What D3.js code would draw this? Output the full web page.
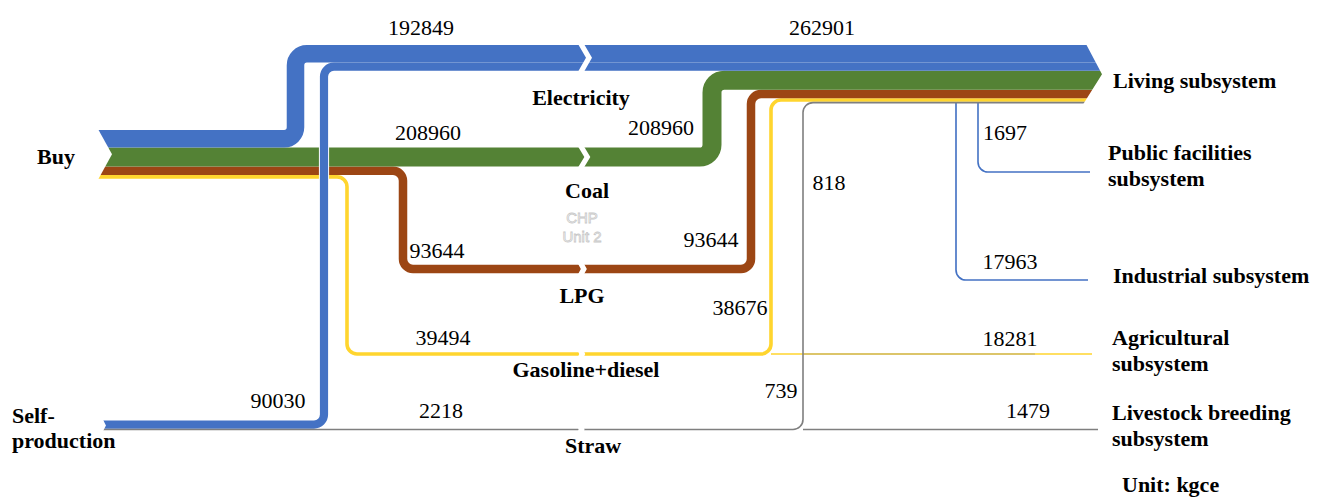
<!DOCTYPE html>
<html>
<head>
<meta charset="utf-8">
<script src="https://cdn.jsdelivr.net/npm/d3@7"></script>
<style>
  html, body { margin: 0; padding: 0; background: #fff; }
  svg { display: block; font-family: "Liberation Serif", "Times New Roman", serif; }
</style>
</head>
<body>
<svg id="chart"></svg>
<script>
// energy flows of the village, unit: kgce
const sources = ["Buy", "Self-production"];
const carriers = ["Electricity", "Coal", "LPG", "Gasoline+diesel", "Straw"];
const sinks = ["Living subsystem", "Public facilities subsystem", "Industrial subsystem",
  "Agricultural subsystem", "Livestock breeding subsystem"];

// inflows: source -> carrier
const inSource = ["Buy", "Self-production", "Buy", "Buy", "Buy", "Self-production"];
const inCarrier = ["Electricity", "Electricity", "Coal", "LPG", "Gasoline+diesel", "Straw"];
const inValue = [192849, 90030, 208960, 93644, 39494, 2218];

// outflows: carrier -> subsystem
const outCarrier = ["Electricity", "Electricity", "Electricity", "Coal", "LPG",
  "Gasoline+diesel", "Gasoline+diesel", "Straw", "Straw", "Straw"];
const outSink = ["Living subsystem", "Public facilities subsystem", "Industrial subsystem",
  "Living subsystem", "Living subsystem", "Living subsystem", "Agricultural subsystem",
  "Living subsystem", "Agricultural subsystem", "Livestock breeding subsystem"];
const outValue = [262901, 1697, 17963, 208960, 93644, 38676, 18281, 818, 739, 1479];

const W = 1317, H = 498;

// hand placed routing of the diagram
const layout = {
  stackTop: { "Buy": 130, "Self-production": 420.5, "Living subsystem": 45 },
  startX: { "Buy": 95, "Self-production": 101 },
  notchX: { "Buy": 98, "Self-production": 103 },
  endX: 1112,
  arrowX: 1086,
  turnIn: [295.5, 324, null, 403, 347, null],
  turnOut: [null, null, 712, 751, 771, 803],
  laneY: { "LPG": 269, "Gasoline+diesel": 354 },
  branchX: [null, 978, 956, null, null, 771, 771, null, 803, 803],
  branchY: { "Public facilities subsystem": 172, "Industrial subsystem": 280, "Agricultural subsystem": 354 },
  branchEnd: [null, 1090, 1088, null, null, null, 1092, null, 1035, 1098],
  breakX: 578,
  inLabel: [[421, 35], [278, 408], [428, 140], [437, 258], [443, 345], [441, 418]],
  outLabel: [[822, 35], [1005, 140], [1010, 269], [661, 135], [711, 247], [740, 315],
    [1010, 346], [829, 190], [781, 398], [1028, 418]],
  carrierLabel: [[581, 105], [587, 198], [582, 303], [586, 377], [593, 453]],
  sinkLabel: [[1113, 88], [1108, 160], [1113, 283], [1112, 345], [1112, 420]],
  sourceLabel: [[37, 164], [12, 423]]
};

const svg = d3.select("#chart")
  .attr("width", W).attr("height", H)
  .attr("viewBox", [0, 0, W, H]);

const wScale = d3.scaleLinear().domain([0, 11000]).range([0, 1]);
const bw = v => Math.max(1.6, wScale(v));

const color = d3.scaleOrdinal()
  .domain(carriers)
  .range(["#4472C4", "#548235", "#9C4614", "#FFD52E", "#7F7F7F"]);

// stack the inflows at their source and at the living subsystem
const inflows = inValue.map((v, i) => ({ i, source: inSource[i], carrier: inCarrier[i], value: v, w: bw(v) }));
const srcPos = {};
inflows.forEach(f => {
  const t = srcPos[f.source] ?? layout.stackTop[f.source];
  f.ySrc = t + f.w / 2;
  srcPos[f.source] = t + f.w;
});
let liv = layout.stackTop["Living subsystem"];
inflows.forEach(f => {
  f.ySink = liv + f.w / 2;
  liv += f.w;
});
const livingBottom = liv;

inflows.forEach(f => {
  const pts = [[layout.startX[f.source], f.ySrc]];
  let y = f.ySrc;
  const tIn = layout.turnIn[f.i], tOut = layout.turnOut[f.i];
  if (tIn != null) {
    pts.push([tIn, y]);
    y = layout.laneY[f.carrier] ?? f.ySink;
    pts.push([tIn, y]);
  }
  if (tOut != null) {
    pts.push([tOut, y]);
    pts.push([tOut, f.ySink]);
  }
  pts.push([layout.endX, f.ySink]);
  f.pts = pts;
});

// branches leaving the carriers for the other subsystems
const branches = outValue.map((v, i) => ({ i, carrier: outCarrier[i], sink: outSink[i], value: v, w: bw(v) }))
  .filter(b => b.sink !== "Living subsystem");
branches.forEach(b => {
  const src = inflows.find(f => f.carrier === b.carrier && f.pts.length > 2);
  const x = layout.branchX[b.i], xe = layout.branchEnd[b.i];
  if (b.carrier === "Electricity") {
    const y = layout.branchY[b.sink];
    b.pts = [[x, livingBottom - 0.5], [x, y], [xe, y]];
  } else if (b.sink === "Livestock breeding subsystem") {
    b.pts = [[x, src.ySrc], [xe, src.ySrc]];
  } else {
    const y = layout.branchY[b.sink];
    b.pts = [[x, y], [xe, y]];
  }
});

function route(pts, r) {
  const p = d3.path();
  p.moveTo(pts[0][0], pts[0][1]);
  for (let k = 1; k < pts.length - 1; k++) {
    p.arcTo(pts[k][0], pts[k][1], pts[k + 1][0], pts[k + 1][1], r);
  }
  p.lineTo(pts[pts.length - 1][0], pts[pts.length - 1][1]);
  return p.toString();
}
const radius = w => Math.max(10, w * 0.65);

const gFlows = svg.append("g").attr("fill", "none");

// branches under the main flows
gFlows.selectAll("path.branch")
  .data(branches.filter(b => b.carrier !== "Straw"))
  .join("path")
  .attr("class", "branch")
  .attr("d", b => route(b.pts, 10))
  .attr("stroke", b => color(b.carrier))
  .attr("stroke-width", b => b.w);

const order = [4, 3, 2, 0, 1, 5];
order.forEach(idx => {
  const f = inflows[idx];
  if (f.source === "Self-production" && f.carrier === "Electricity") {
    // white casing where it crosses the bought bundle
    const x = layout.turnIn[idx];
    gFlows.append("line")
      .attr("x1", x).attr("x2", x)
      .attr("y1", layout.stackTop["Buy"] - 2).attr("y2", srcPos["Buy"] + 2)
      .attr("stroke", "#fff").attr("stroke-width", f.w + 2);
  }
  gFlows.append("path")
    .attr("d", route(f.pts, radius(f.w)))
    .attr("stroke", color(f.carrier))
    .attr("stroke-width", f.w);
});

gFlows.selectAll("path.straw")
  .data(branches.filter(b => b.carrier === "Straw"))
  .join("path")
  .attr("class", "straw")
  .attr("d", b => route(b.pts, 10))
  .attr("stroke", b => color(b.carrier))
  .attr("stroke-opacity", b => b.sink === "Agricultural subsystem" ? 0.55 : 1)
  .attr("stroke-width", b => b.sink === "Agricultural subsystem" ? 1.2 : b.w);

// notched tails at the sources
const gCut = svg.append("g").attr("fill", "#fff");
sources.forEach(s => {
  const top = layout.stackTop[s], bot = srcPos[s], x0 = layout.notchX[s];
  const d = Math.min(14, (bot - top) * 0.3), mid = (top + bot) / 2;
  gCut.append("polygon")
    .attr("points", [[x0 - 12, top - 1], [x0, top - 1], [x0 + d, mid], [x0, bot + 1], [x0 - 12, bot + 1]].join(" "));
});

// arrow head into the living subsystem
{
  const top = layout.stackTop["Living subsystem"], bot = livingBottom, mid = (top + bot) / 2;
  const xb = layout.arrowX, d = 16;
  gCut.append("polygon")
    .attr("points", [[xb, top - 1], [layout.endX + 4, top - 1], [layout.endX + 4, bot + 1], [xb - 3, bot + 1], [xb + d, mid]].join(" "));
}

// broken links in the middle
const bx = layout.breakX + 3;
let cuts = [];
inflows.forEach(f => {
  for (let k = 0; k < f.pts.length - 1; k++) {
    const a = f.pts[k], b = f.pts[k + 1];
    if (a[1] === b[1] && Math.min(a[0], b[0]) < bx && Math.max(a[0], b[0]) > bx) {
      cuts.push([a[1] - f.w / 2, a[1] + f.w / 2]);
    }
  }
});
cuts.sort((a, b) => a[0] - b[0]);
const merged = [];
cuts.forEach(c => {
  const last = merged[merged.length - 1];
  if (last && c[0] - last[1] < 0.6) last[1] = Math.max(last[1], c[1]);
  else merged.push(c.slice());
});
merged.forEach(([top, bot]) => {
  const x0 = layout.breakX, g = 6, d = Math.min(8, (bot - top) / 3), mid = (top + bot) / 2;
  gCut.append("polygon")
    .attr("points", [[x0, top - 1], [x0 + d, mid], [x0, bot + 1], [x0 + g, bot + 1], [x0 + g + d, mid], [x0 + g, top - 1]].join(" "));
});

// text
const gText = svg.append("g")
  .attr("fill", "#000")
  .style("font-family", "'Liberation Serif', 'Times New Roman', serif")
  .style("font-size", "22px");

gText.selectAll("text.in")
  .data(inValue)
  .join("text")
  .attr("class", "in")
  .attr("x", (d, i) => layout.inLabel[i][0])
  .attr("y", (d, i) => layout.inLabel[i][1])
  .attr("text-anchor", "middle")
  .text(d => d);

gText.selectAll("text.out")
  .data(outValue)
  .join("text")
  .attr("class", "out")
  .attr("x", (d, i) => layout.outLabel[i][0])
  .attr("y", (d, i) => layout.outLabel[i][1])
  .attr("text-anchor", "middle")
  .text(d => d);

gText.selectAll("text.carrier")
  .data(carriers)
  .join("text")
  .attr("class", "carrier")
  .attr("x", (d, i) => layout.carrierLabel[i][0])
  .attr("y", (d, i) => layout.carrierLabel[i][1])
  .attr("text-anchor", "middle")
  .attr("font-weight", "bold")
  .text(d => d);

// ghost label left over on the coal link
gText.selectAll("text.chp")
  .data(["CHP", "Unit 2"])
  .join("text")
  .attr("class", "chp")
  .attr("x", 582)
  .attr("y", (d, i) => 223 + i * 19)
  .attr("text-anchor", "middle")
  .style("font-family", "'Liberation Sans', Arial, sans-serif")
  .style("font-size", "15px")
  .attr("fill", "#fff")
  .attr("stroke", "#c8c8c8")
  .attr("stroke-width", 0.8)
  .text(d => d);

function wrapLabel(g, name, pos, lines, lh) {
  const t = g.append("text")
    .attr("x", pos[0]).attr("y", pos[1])
    .attr("font-weight", "bold");
  lines.forEach((l, k) => {
    t.append("tspan").attr("x", pos[0]).attr("dy", k ? lh : 0).text(l);
  });
}

const sinkWrap = [false, true, false, true, true];
sinks.forEach((s, i) => {
  const lines = sinkWrap[i] ? [s.replace(" subsystem", ""), "subsystem"] : [s];
  wrapLabel(gText, s, layout.sinkLabel[i], lines, 26);
});

sources.forEach((s, i) => {
  const lines = s === "Self-production" ? ["Self-", "production"] : [s];
  wrapLabel(gText, s, layout.sourceLabel[i], lines, 25);
});

gText.append("text")
  .attr("x", 1122).attr("y", 492)
  .attr("font-weight", "bold")
  .text("Unit: kgce");
</script>
</body>
</html>
